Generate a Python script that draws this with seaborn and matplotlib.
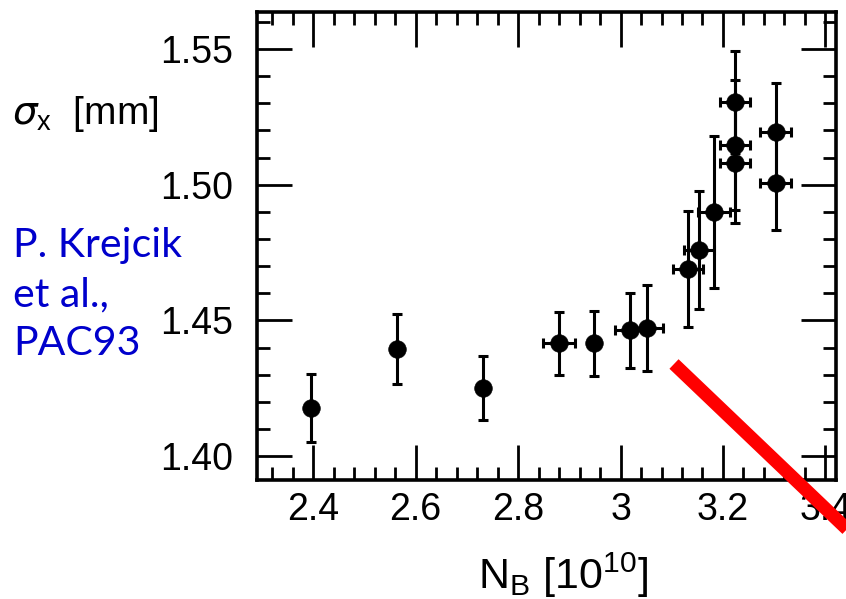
import matplotlib
matplotlib.use("Agg")
import matplotlib.pyplot as plt
from matplotlib.lines import Line2D
from matplotlib.ticker import MultipleLocator, FixedLocator
import numpy as np
import pandas as pd
import seaborn as sns

# ---- data ----
nb = [2.396, 2.564, 2.732, 2.880, 2.948, 3.019, 3.052, 3.132, 3.153, 3.182,
      3.223, 3.223, 3.223, 3.303, 3.303]
sigma_x = [1.4177, 1.4394, 1.4250, 1.4416, 1.4416, 1.4464, 1.4472, 1.4689,
           1.4759, 1.4900, 1.5305, 1.5146, 1.5080, 1.5194, 1.5006]
sigma_err = [0.0125, 0.0130, 0.0118, 0.0116, 0.0120, 0.0138, 0.0160, 0.0214,
             0.0216, 0.0280, 0.0188, 0.0238, 0.0220, 0.0180, 0.0173]
nb_err = [0.0, 0.0, 0.0, 0.031, 0.0, 0.029, 0.030, 0.029, 0.029, 0.031,
          0.029, 0.029, 0.029, 0.030, 0.030]

x_ticks = [2.4, 2.6, 2.8, 3.0, 3.2, 3.4]
x_ticklabels = ["2.4", "2.6", "2.8", "3", "3.2", "3.4"]
y_ticks = [1.40, 1.45, 1.50, 1.55]
y_ticklabels = ["1.40", "1.45", "1.50", "1.55"]
citation = ["P. Krejcik", "et al.,", "PAC93"]

df = pd.DataFrame({"nb": nb, "sigma": sigma_x, "serr": sigma_err, "nerr": nb_err})

sns.set_style("ticks")
plt.rcParams["font.family"] = ["Liberation Sans", "DejaVu Sans"]
plt.rcParams["text.color"] = "black"
plt.rcParams["xtick.color"] = "black"
plt.rcParams["ytick.color"] = "black"

fig = plt.figure(figsize=(8.46, 5.99), dpi=100)
ax = fig.add_axes([257 / 846, 1 - 480 / 599, (836 - 257) / 846, (480 - 12) / 599])

ax.errorbar(df["nb"], df["sigma"], yerr=df["serr"], xerr=df["nerr"],
            fmt="none", ecolor="black", elinewidth=2.2, capsize=3.6,
            capthick=2.2, zorder=2)
sns.scatterplot(data=df, x="nb", y="sigma", ax=ax, color="black", s=160,
                marker="o", edgecolor="black", linewidth=0.5, zorder=3,
                legend=False)

ax.set_xlim(2.2907, 3.4205)
ax.set_ylim(1.3912, 1.5636)

ax.xaxis.set_major_locator(FixedLocator(x_ticks))
ax.set_xticklabels(x_ticklabels)
ax.xaxis.set_minor_locator(MultipleLocator(0.04))
ax.yaxis.set_major_locator(FixedLocator(y_ticks))
ax.set_yticklabels(y_ticklabels)
ax.yaxis.set_minor_locator(MultipleLocator(0.01))

ax.tick_params(which="both", direction="in", top=True, right=True,
               color="black", labelcolor="black", width=2.0, labelsize=27)
ax.tick_params(which="major", length=25)
ax.tick_params(which="minor", length=9.5)
ax.tick_params(axis="x", which="major", pad=9)
ax.tick_params(axis="y", which="major", pad=17)
for sp in ax.spines.values():
    sp.set_linewidth(2.6)
    sp.set_color("black")

ax.set_xlabel("")
ax.set_ylabel("")

fig.text(563 / 846, 1 - 575 / 599, r"N$_\mathregular{B}$ [10$^\mathregular{10}$]",
         ha="center", va="center", fontsize=31, color="black")
fig.text(12 / 846, 1 - 114 / 599, r"$\sigma_\mathregular{x}$  [mm]",
         ha="left", va="center", fontsize=28, color="black")

for i, line in enumerate(citation):
    fig.text(13 / 846, 1 - (257 + 49 * i) / 599, line, ha="left", va="baseline",
             fontsize=29.5, color="#0000CC", family=["Lato", "DejaVu Sans"])

# red slash drawn on the figure
fig.add_artist(Line2D([674 / 846, 850 / 846], [1 - 364 / 599, 1 - 532 / 599],
                      transform=fig.transFigure, color="#FF0000", linewidth=9.5,
                      solid_capstyle="butt", zorder=10))

fig.savefig("out.png", dpi=100)
